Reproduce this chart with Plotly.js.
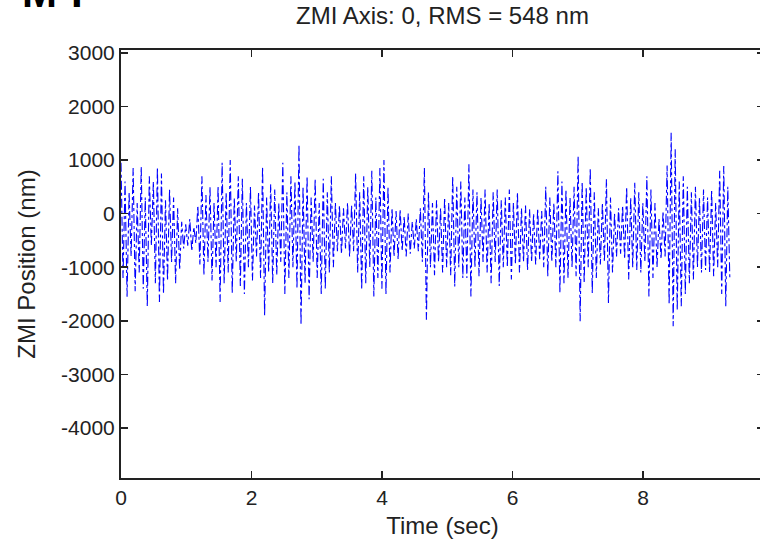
<!DOCTYPE html>
<html>
<head>
<meta charset="utf-8">
<script src="https://cdn.plot.ly/plotly-3.0.1.min.js"></script>
<style>
  html, body { margin: 0; padding: 0; background: #fff; overflow: hidden; }
  #chart { width: 764px; height: 547px; }
</style>
</head>
<body>
<div id="chart"></div>
<script>
// ---- data ----
const chartTitle = "ZMI Axis: 0, RMS = 548 nm";
const xTitle = "Time (sec)";
const yTitle = "ZMI Position (nm)";
const cornerText = "M-I";
const sampleInterval = 0.031; // seconds between samples
const zmiPosition = [
  950, -1200, 600, -1550, 400, -800, 850, -1450, 200, -1100,
  880, -1400, 300, -1730, 700, -600, 600, -1300, 860, -1650,
  750, -1500, 250, -1250, 450, -900, 300, -1300, 100, -1050,
  -150, -650, -200, -600, -100, -700, -250, -550, 150, -950,
  700, -1150, 350, -900, 500, -1250, 200, -1000, 520, -1650,
  950, -1300, 400, -1100, 1000, -1480, 300, -900, 700, -1350,
  650, -1500, 200, -1000, 500, -1250, 150, -800, 400, -1200,
  880, -1900, 300, -1100, 550, -1300, 450, -1150, 200, -900,
  950, -1500, 400, -1200, 700, -1000, 600, -1400, 1290, -2080,
  500, -1300, 700, -1600, 300, -900, 650, -1200, 200, -1500,
  650, -1400, 400, -1100, 700, -1000, 200, -700, 150, -750,
  100, -650, 200, -800, 150, -700, 750, -1100, 400, -1420,
  700, -1300, 500, -1000, 800, -1545, 300, -1200, 850, -1400,
  1000, -1500, 500, -1100, 100, -800, 50, -850, 80, -700,
  -50, -800, 0, -750, -150, -650, -100, -700, 100, -900,
  850, -1980, 400, -1000, 200, -1150, 250, -900, 100, -1100,
  300, -1000, 200, -1150, 700, -1360, 500, -1000, 600, -1200,
  300, -1200, 920, -1545, 450, -1000, 400, -1170, 300, -900,
  450, -1100, 200, -1300, 400, -900, 450, -1350, 250, -1000,
  300, -1000, 450, -1230, 200, -950, 400, -1100, 100, -900,
  150, -1050, 80, -900, 0, -950, 100, -850, 50, -1000,
  500, -1170, 300, -900, 200, -1000, 790, -1480, 600, -1300,
  450, -1200, 300, -1000, 500, -1170, 1075, -2010, 600, -1300,
  500, -1000, 850, -1480, 400, -1200, 100, -950, 200, -900,
  640, -1670, 300, -1100, 0, -800, 100, -750, 150, -850,
  500, -1230, 300, -1000, 575, -1050, 400, -1100, 200, -900,
  700, -1545, 450, -1200, 200, -1000, -100, -850, 50, -800,
  900, -1700, 1510, -2100, 1200, -1800, 600, -1730, 700, -1500,
  500, -1300, 400, -1230, 500, -1000, 300, -1100, 450, -1050,
  300, -1100, 450, -1170, 200, -1000, 800, -1500, 890, -1730,
  500, -1200
];
const xTickVals = [0, 2, 4, 6, 8];
const xTickLabels = ["0", "2", "4", "6", "8"];
const yTickVals = [-4000, -3000, -2000, -1000, 0, 1000, 2000, 3000];
const yTickLabels = ["-4000", "-3000", "-2000", "-1000", "0", "1000", "2000", "3000"];
const xRange = [0, 9.855];
const yRange = [-4935, 3055];

// ---- build ----
const timeSec = zmiPosition.map((_, i) => i * sampleInterval);

const FONT = "'Liberation Sans', Arial, sans-serif";
const axisCommon = {
  showgrid: false, zeroline: false,
  showline: true, linecolor: "#222", linewidth: 2, mirror: "ticks",
  ticks: "inside", ticklen: 7, tickwidth: 1.5, tickcolor: "#222",
  tickfont: { family: FONT, size: 21, color: "#222" },
  fixedrange: true
};

const trace = {
  x: timeSec, y: zmiPosition, type: "scatter", mode: "lines",
  line: { color: "#0000ff", width: 1.1, dash: "dashdot" },
  hoverinfo: "skip"
};

const layout = {
  width: 764, height: 547,
  margin: { l: 121, r: 0, t: 50, b: 69 },
  paper_bgcolor: "#fff", plot_bgcolor: "#fff",
  showlegend: false,
  title: { text: chartTitle, x: 0.5, xref: "paper", xanchor: "center",
           y: 1 - 16 / 547, yref: "container", yanchor: "middle",
           font: { family: FONT, size: 24, color: "#222" } },
  xaxis: Object.assign({}, axisCommon, {
    range: xRange, tickvals: xTickVals, ticktext: xTickLabels,
    title: { text: xTitle, font: { family: FONT, size: 24, color: "#222" }, standoff: 9 }
  }),
  yaxis: Object.assign({}, axisCommon, {
    range: yRange, tickvals: yTickVals, ticktext: yTickLabels,
    title: { text: yTitle, font: { family: FONT, size: 24, color: "#222" }, standoff: 19 }
  }),
  annotations: [{
    text: "<b>" + cornerText + "</b>", xref: "paper", yref: "paper",
    x: (20 - 121) / 643, xanchor: "left", y: 1.0748, yanchor: "bottom",
    showarrow: false, font: { family: FONT, size: 42, color: "#000" }
  }]
};

Plotly.newPlot("chart", [trace], layout, { staticPlot: true, displayModeBar: false });
</script>
</body>
</html>
